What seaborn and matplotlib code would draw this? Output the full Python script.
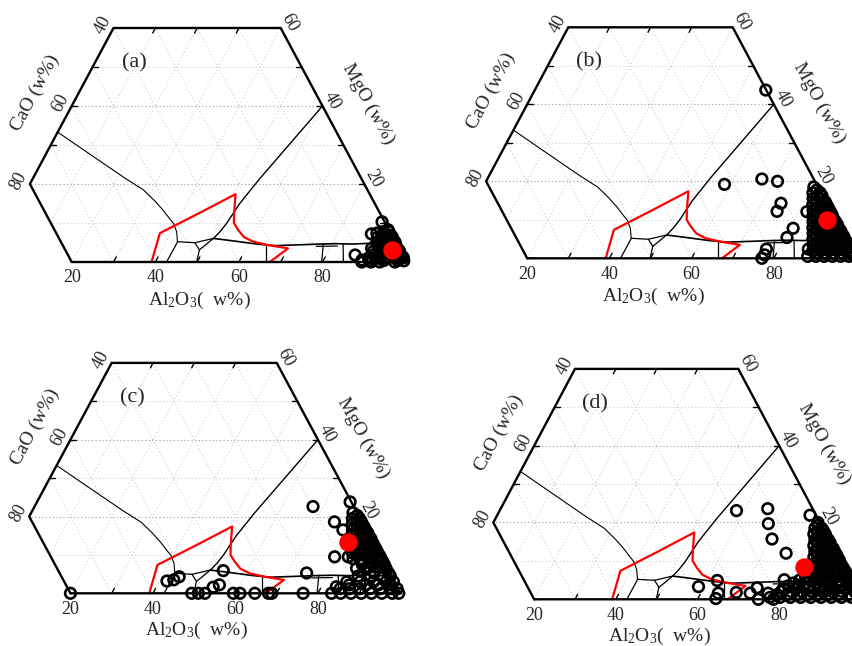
import matplotlib
matplotlib.use('Agg')
import matplotlib.pyplot as plt
from matplotlib.patches import Polygon
import numpy as np
import pandas as pd
import seaborn as sns

sns.set_theme(style='white')
plt.rcParams['font.family'] = ['Liberation Serif', 'DejaVu Serif']
plt.rcParams['mathtext.fontset'] = 'custom'
plt.rcParams['mathtext.rm'] = 'Liberation Serif'
plt.rcParams['mathtext.it'] = 'Liberation Serif:italic'

# compositions are (Al2O3, MgO) in w%, CaO is the rest
# phase diagram lines
liq_al = [0.0, 8.0, 14.9, 22.0, 27.9, 32.0, 35.2, 38.0, 39.4, 41.2, 42.7]
liq_mg = [33.3, 29.0, 25.3, 21.5, 18.5, 15.7, 13.3, 11.0, 9.9, 7.8, 5.2]
sp_al = [60.0, 54.2, 52.7, 52.1, 51.6, 50.9]
sp_mg = [40.0, 21.0, 15.0, 9.9, 7.8, 6.05]
bd_al = [50.9, 56.4, 62.0, 66.6, 72.0, 77.0, 81.0, 85.0, 89.0, 94.5]
bd_mg = [6.05, 5.35, 4.6, 4.2, 4.4, 4.6, 4.7, 4.6, 4.8, 4.5]
seg_al = [[42.75, 42.7], [42.75, 47.0], [47.0, 49.0], [49.0, 49.9], [47.0, 50.9],
          [49.0, 50.9], [64.4, 66.5], [77.85, 79.8], [82.6, 85.0], [76.5, 81.5]]
seg_mg = [[5.2, 0.0], [5.2, 4.95], [4.95, 3.1], [3.1, 0.0], [4.95, 6.05],
          [3.1, 6.05], [4.2, 0.0], [4.7, 0.0], [4.65, 0.0], [4.0, 4.1]]
red_al = [39.1, 37.4, 44.2, 50.5, 52.6, 53.8, 55.75, 58.0, 60.85, 65.0, 70.0, 67.4]
red_mg = [0.0, 7.4, 12.5, 17.4, 12.5, 10.0, 8.2, 6.4, 5.2, 4.3, 3.5, 0.0]

# inclusion compositions
al_a = [89.1, 89.3, 88.1, 86.9, 89.2, 89.4, 91.6, 93.7, 97.3, 99.3,
        90.5, 92.0, 93.5, 95.0, 96.5, 98.0,
        90.8, 92.3, 93.8, 95.3, 96.8, 98.3,
        91.0, 92.5, 94.0, 95.5, 97.0,
        91.2, 92.7, 94.2, 95.7,
        91.5, 93.0, 94.5, 96.8, 91.5, 90.0, 98.8,
        91.0, 94.5, 97.8, 91.5, 95.0, 97.5, 92.0, 93.2, 96.0,
        90.5, 93.5, 94.9, 90.0, 92.0, 93.6, 90.8, 92.0]
mg_a = [10.3, 7.4, 7.2, 1.8, 0.5, 0.0, 0.0, 0.0, 0.0, 0.3,
        1.0, 1.2, 0.8, 1.0, 1.2, 0.9,
        2.8, 2.6, 2.9, 2.5, 2.8, 1.5,
        4.4, 4.2, 4.5, 4.1, 2.8,
        5.9, 5.6, 5.3, 3.9,
        7.0, 6.8, 5.3, 3.0, 8.3, 3.5, 1.1,
        0.4, 0.4, 0.4, 2.0, 2.0, 2.0, 3.6, 3.6, 3.6,
        5.0, 5.0, 5.0, 6.3, 6.3, 6.3, 7.8, 7.8]

al_b = [56.2, 58.4, 66.8, 70.9, 74.6, 74.7, 80.8, 80.5, 77.0, 77.3, 77.1, 82.0, 87.2, 86.7,
        80.5, 81.0, 82.8, 81.8, 83.8, 82.5, 84.5, 85.8, 83.3, 85.3, 87.3,
        84.0, 86.0, 88.0, 88.8, 84.8, 86.8, 88.8, 90.3, 85.5, 87.5, 89.5, 91.7,
        86.3, 88.3, 90.3, 92.3, 93.3, 87.0, 89.0, 91.0, 93.0, 94.8,
        87.8, 89.8, 91.8, 93.8, 95.8, 96.3, 88.5, 90.5, 92.5, 94.5, 96.5, 97.8,
        88.0, 90.0, 92.0, 94.0, 96.0, 98.0, 99.3,
        81.6, 82.4, 83.6, 83.1, 85.1, 83.9, 85.9, 86.6, 84.6, 86.6, 88.1,
        85.4, 87.4, 89.4, 86.1, 88.1, 90.1, 91.1, 86.9, 88.9, 90.9, 92.6,
        87.6, 89.6, 91.6, 93.6, 94.1, 88.4, 90.4, 92.4, 94.4, 95.6,
        89.1, 91.1, 93.1, 95.1, 97.1, 89.9, 91.9, 93.9, 95.9, 97.9, 98.6]
mg_b = [43.7, 19.2, 20.6, 20.0, 14.3, 12.2, 7.8, 5.4, 2.4, 0.9, 0.0, 12.1, 2.4, 7.4,
        18.5, 17.0, 17.0, 15.5, 15.5, 14.0, 14.0, 14.0, 12.5, 12.5, 12.5,
        11.0, 11.0, 11.0, 11.0, 9.5, 9.5, 9.5, 9.5, 8.0, 8.0, 8.0, 8.0,
        6.5, 6.5, 6.5, 6.5, 6.5, 5.0, 5.0, 5.0, 5.0, 5.0,
        3.5, 3.5, 3.5, 3.5, 3.5, 3.5, 2.0, 2.0, 2.0, 2.0, 2.0, 2.0,
        0.5, 0.5, 0.5, 0.5, 0.5, 0.5, 0.5,
        17.75, 16.25, 16.25, 14.75, 14.75, 13.25, 13.25, 13.25, 11.75, 11.75, 11.75,
        10.25, 10.25, 10.25, 8.75, 8.75, 8.75, 8.75, 7.25, 7.25, 7.25, 7.25,
        5.75, 5.75, 5.75, 5.75, 5.75, 4.25, 4.25, 4.25, 4.25, 4.25,
        2.75, 2.75, 2.75, 2.75, 2.75, 1.25, 1.25, 1.25, 1.25, 1.25, 1.25]

al_c = [20.0, 41.8, 43.3, 44.2, 49.4, 51.0, 52.6, 53.8, 55.0, 54.1, 59.5, 61.1, 64.7, 68.0,
        68.8, 76.4, 74.6, 67.5, 74.7, 77.8, 79.3, 75.9, 83.6, 83.3, 88.7, 82.6, 86.1, 88.6,
        90.2, 93.6,
        78.0, 78.6, 80.3, 79.3, 81.3, 81.8, 80.1, 82.1, 83.3, 80.8, 82.8, 84.8,
        81.6, 83.6, 85.6, 86.3, 82.3, 84.3, 86.3, 87.8, 83.1, 85.1, 87.1, 89.3,
        84.0, 86.0, 88.0, 90.8, 87.0, 89.5, 92.3, 87.5, 90.5, 93.5, 95.3,
        85.5, 92.0, 95.0, 96.8, 84.8, 87.0, 89.5, 92.0, 94.5, 97.0, 98.6,
        85.5, 88.0, 90.5, 93.0, 95.5, 98.0, 99.6,
        79.4, 80.1, 81.1, 80.9, 82.6, 81.6, 83.6, 84.2, 82.4, 84.4, 85.7,
        83.1, 85.1, 87.1, 83.9, 85.9, 87.9, 88.6, 84.6, 86.6, 88.6, 90.1,
        86.4, 88.4, 90.4, 91.6, 89.0, 91.5, 93.0, 91.0, 94.5, 86.5, 90.5, 93.5, 96.5]
mg_c = [0.0, 3.2, 3.5, 4.3, 0.0, 0.0, 0.0, 1.6, 2.2, 5.9, 0.0, 0.0, 0.0, 0.0,
        0.0, 0.0, 5.3, 22.6, 18.6, 16.5, 9.5, 23.8, 1.7, 0.0, 3.0, 9.5, 6.5, 6.5,
        8.7, 6.1,
        21.0, 19.5, 19.5, 18.0, 18.0, 18.0, 16.5, 16.5, 16.5, 15.0, 15.0, 15.0,
        13.5, 13.5, 13.5, 13.5, 12.0, 12.0, 12.0, 12.0, 10.5, 10.5, 10.5, 10.5,
        9.0, 9.0, 9.0, 9.0, 7.5, 7.5, 7.5, 4.5, 4.5, 4.5, 4.5,
        3.0, 3.0, 3.0, 3.0, 1.2, 1.2, 1.2, 1.2, 1.2, 1.2, 1.2,
        0.0, 0.0, 0.0, 0.0, 0.0, 0.0, 0.0,
        20.25, 18.75, 18.75, 17.25, 17.25, 15.75, 15.75, 15.75, 14.25, 14.25, 14.25,
        12.75, 12.75, 12.75, 11.25, 11.25, 11.25, 11.25, 9.75, 9.75, 9.75, 9.75,
        8.25, 8.25, 8.25, 8.25, 6.75, 6.75, 6.75, 5.25, 5.25, 2.2, 2.2, 2.2, 2.2]

al_d = [58.0, 65.4, 67.5, 70.4, 75.7, 76.6, 78.7, 58.6, 62.4, 64.3, 64.4, 68.6, 72.1, 73.1,
        74.9, 76.5, 78.6,
        79.5, 79.5, 81.2, 80.0, 82.0, 82.8, 81.0, 83.0, 84.3, 81.5, 83.5, 85.5,
        82.5, 84.5, 86.5, 87.3, 83.0, 85.0, 87.0, 88.8, 84.0, 86.0, 88.0, 90.2,
        84.5, 86.5, 88.5, 90.5, 91.8, 85.0, 87.0, 89.0, 91.0, 93.3,
        82.5, 85.0, 87.5, 90.0, 92.5, 94.8, 80.5, 83.0, 85.5, 88.0, 90.5, 93.0, 96.0,
        79.5, 82.0, 84.5, 87.0, 89.5, 92.0, 94.5, 97.5,
        77.5, 80.0, 82.5, 85.0, 87.5, 90.0, 92.5, 95.0, 97.5, 99.3,
        79.9, 80.6, 82.0, 81.4, 83.4, 82.1, 84.1, 85.1, 82.9, 84.9, 86.6,
        83.6, 85.6, 87.6, 88.1, 84.4, 86.4, 88.4, 89.6, 85.1, 87.1, 89.1, 91.0,
        85.9, 87.9, 89.9, 91.9, 92.6, 83.6, 86.6, 88.6, 90.6, 92.6, 94.1,
        81.4, 84.4, 87.4, 90.4, 92.4, 95.4, 79.6, 82.6, 85.6, 88.6, 91.6, 94.6, 96.6,
        78.9, 81.4, 83.9, 86.4, 88.9, 91.4, 93.9, 96.4, 98.4]
mg_d = [23.1, 23.6, 19.7, 15.7, 12.0, 21.9, 5.1, 3.3, 4.9, 1.6, 0.2, 1.8, 1.6, 3.0,
        0.0, 1.6, 0.0,
        20.0, 18.5, 18.5, 17.0, 17.0, 17.0, 15.5, 15.5, 15.5, 14.0, 14.0, 14.0,
        12.5, 12.5, 12.5, 12.5, 11.0, 11.0, 11.0, 11.0, 9.5, 9.5, 9.5, 9.5,
        8.0, 8.0, 8.0, 8.0, 8.0, 6.5, 6.5, 6.5, 6.5, 6.5,
        5.0, 5.0, 5.0, 5.0, 5.0, 5.0, 3.5, 3.5, 3.5, 3.5, 3.5, 3.5, 3.5,
        2.0, 2.0, 2.0, 2.0, 2.0, 2.0, 2.0, 2.0,
        0.5, 0.5, 0.5, 0.5, 0.5, 0.5, 0.5, 0.5, 0.5, 0.5,
        19.25, 17.75, 17.75, 16.25, 16.25, 14.75, 14.75, 14.75, 13.25, 13.25, 13.25,
        11.75, 11.75, 11.75, 11.75, 10.25, 10.25, 10.25, 10.25, 8.75, 8.75, 8.75, 8.75,
        7.25, 7.25, 7.25, 7.25, 7.25, 5.75, 5.75, 5.75, 5.75, 5.75, 5.75,
        4.25, 4.25, 4.25, 4.25, 4.25, 4.25, 2.75, 2.75, 2.75, 2.75, 2.75, 2.75, 2.75,
        1.25, 1.25, 1.25, 1.25, 1.25, 1.25, 1.25, 1.25, 1.25]

# average composition (red dot)
red_dot = {'(a)': (95.0, 3.1), '(b)': (87.9, 9.95), '(c)': (80.7, 13.4), '(d)': (81.95, 8.3)}

bottom_ticks = [20, 40, 60, 80]
cao_ticks = [40, 60, 80]
mgo_ticks = [20, 40, 60]


def tern(al, mg):
    al = np.asarray(al, dtype=float)
    mg = np.asarray(mg, dtype=float)
    return al + mg / 2.0, mg


W, H = 853, 646
fig = plt.figure(figsize=(W / 100, H / 100), dpi=100)
fig.patch.set_facecolor('white')


def draw_panel(label, al, mg, x30, sx, y0, sy):
    ax = fig.add_axes([(x30 - 30 * sx) / W, 1 - (y0 + 13 * sy) / H, 105 * sx / W, 83 * sy / H])
    # truncated triangle: CaO <= 80, MgO <= 60
    edge_al = [20, 100, 40, 0, 0, 20]
    edge_mg = [0, 0, 60, 60, 20, 0]
    ex, ey = tern(edge_al, edge_mg)
    clip = Polygon(np.column_stack([ex, ey]), closed=True, fill=False, edgecolor='none')
    ax.add_patch(clip)

    # dotted grid
    grid = []
    for m in range(10, 60, 10):
        col = '#9a9a9a' if m % 20 == 0 else '#cfcfcf'
        grid += ax.plot([0, 105], [m, m], color=col, lw=0.8, dashes=(1, 2.2), zorder=1)
    for a in range(10, 100, 10):
        gx, gy = tern([a, a], [0, 100 - a])
        grid += ax.plot(gx, gy, color='#cfcfcf', lw=0.8, dashes=(1, 2.2), zorder=1)
    for c in range(10, 90, 10):
        gx, gy = tern([100 - c, 0], [0, 100 - c])
        grid += ax.plot(gx, gy, color='#cfcfcf', lw=0.8, dashes=(1, 2.2), zorder=1)
    for g in grid:
        g.set_clip_path(clip)

    # phase diagram
    x, y = tern(liq_al, liq_mg)
    ax.plot(x, y, color='black', lw=0.8, zorder=2)
    x, y = tern(sp_al, sp_mg)
    ax.plot(x, y, color='black', lw=1.0, zorder=2)
    x, y = tern(bd_al, bd_mg)
    ax.plot(x, y, color='black', lw=1.2, zorder=2)
    for sa, sm in zip(seg_al, seg_mg):
        x, y = tern(sa, sm)
        ax.plot(x, y, color='black', lw=0.9, zorder=2)
    x, y = tern(red_al, red_mg)
    ax.plot(x, y, color='#ff0000', lw=1.6, zorder=3)

    # frame and ticks
    ax.plot(ex, ey, color='black', lw=1.7, zorder=4, solid_joinstyle='miter')
    tl = 1.3
    for m in range(30, 60, 10):
        tx, ty = tern([0, 0], [m, m])
        ax.plot([tx[0], tx[0] + tl], ty, color='black', lw=1.0, zorder=4)
    for m in range(10, 60, 10):
        tx, ty = tern([100 - m, 100 - m], [m, m])
        ax.plot([tx[0], tx[0] - tl], ty, color='black', lw=1.0, zorder=4)
    for a in range(30, 100, 10):
        tx, ty = tern([a, a], [0, tl])
        ax.plot(tx, ty, color='black', lw=1.0, zorder=4)
    for xt in [40, 50, 60]:
        ax.plot([xt, xt - 0.6], [60, 60 - tl], color='black', lw=1.0, zorder=4)

    # data
    px, py = tern(al, mg)
    df = pd.DataFrame({'x': px, 'y': py})
    sns.scatterplot(data=df, x='x', y='y', ax=ax, marker='o', s=58, facecolors='none',
                    edgecolor='black', linewidth=1.9, zorder=5)
    rx, ry = tern([red_dot[label][0]], [red_dot[label][1]])
    sns.scatterplot(x=rx, y=ry, ax=ax, color='#ff0000', s=175, linewidth=0, zorder=7)

    # labels
    for t in bottom_ticks:
        ax.text(t, -4.1, str(t), ha='center', va='center', fontsize=13)
    for t in cao_ticks:
        m = 100 - t
        lx, ly = tern([0], [m])
        ax.text(lx[0] - 2.6, ly[0] + 0.8, str(t), ha='center', va='center', fontsize=13,
                rotation=62, rotation_mode='anchor')
    for t in mgo_ticks:
        lx, ly = tern([100 - t], [t])
        ax.text(lx[0] + 2.2, ly[0] + 1.5, str(t), ha='center', va='center', fontsize=13,
                rotation=-61, rotation_mode='anchor')
    ax.text(35, 51, label, ha='center', va='center', fontsize=16)
    ax.text(50.6, -9.8, 'Al$_\\mathregular{2}$O$_\\mathregular{3}$(  w%)', ha='center',
            va='center', fontsize=14)
    ax.text(11.3, 43.4, 'CaO (w%)', ha='center', va='center', fontsize=14,
            rotation=62, rotation_mode='anchor')
    ax.text(91.0, 40.4, 'MgO (w%)', ha='center', va='center', fontsize=14,
            rotation=-61, rotation_mode='anchor')

    ax.set_xlim(0, 105)
    ax.set_ylim(-13, 70)
    ax.axis('off')


draw_panel('(a)', al_a, mg_a, 113.5, 4.18, 262.0, 3.90)
draw_panel('(b)', al_b, mg_b, 568.3, 4.11, 258.3, 3.85)
draw_panel('(c)', al_c, mg_c, 111.7, 4.125, 593.3, 3.84)
draw_panel('(d)', al_d, mg_d, 575.0, 4.083, 599.3, 3.84)

fig.savefig('out.png', dpi=100, facecolor='white')
